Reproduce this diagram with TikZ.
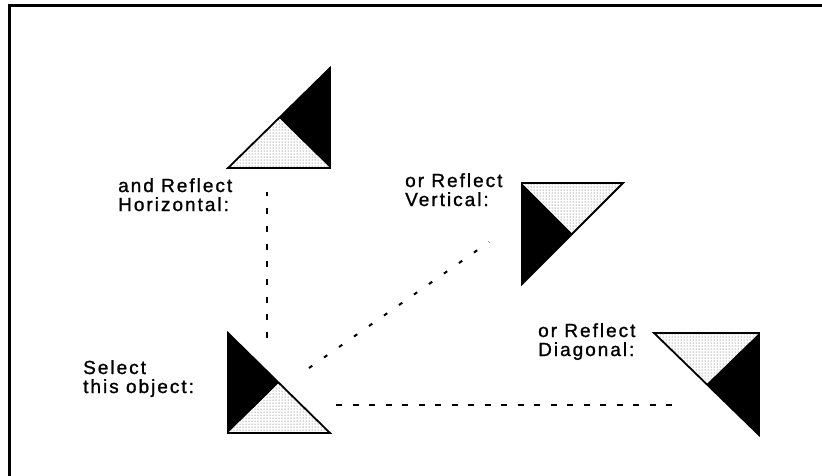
\documentclass[tikz,border=0pt]{standalone}
\usepackage{fontspec}
\setmainfont{Liberation Sans}[LetterSpace=10.5, FakeBold=1.2]
\usetikzlibrary{patterns}
\tikzset{
  x=1pt, y=-1pt,
  outline/.style={draw=black, line width=1.8pt, line join=miter},
  blackpart/.style={fill=black},
  stipple/.style={fill=white, postaction={pattern=dots, pattern color=black!70}},
  label/.style={anchor=base west, inner sep=0pt, align=left, font=\fontsize{19}{19}\selectfont},
  dashv/.style={line width=2pt, dash pattern=on 6pt off 11.7pt},
  dashh/.style={line width=2pt, dash pattern=on 6pt off 10.5pt},
  dashd/.style={line width=2pt, dash pattern=on 4pt off 14.3pt},
  frame/.style={line width=2.2pt}
}
\begin{document}
\begin{tikzpicture}
\useasboundingbox (0,0) rectangle (822,475);
% frame
\coordinate (f1) at (9.5,480);
\coordinate (f2) at (9.5,5.5);
\coordinate (f3) at (830,5.5);
\draw[frame] (f1) -- (f2) -- (f3);

% Select triangle
\coordinate (s1) at (228,333);
\coordinate (s2) at (228,433);
\coordinate (s3) at (330,433);
\coordinate (sm) at (279,383);
\fill[blackpart] (s1) -- (s2) -- (sm) -- cycle;
\path[stipple] (s2) -- (s3) -- (sm) -- cycle;
\draw[outline] (s1) -- (s2) -- (s3) -- cycle;

% Horizontal reflect triangle
\coordinate (h1) at (330,68);
\coordinate (h2) at (228,168);
\coordinate (h3) at (330,168);
\coordinate (hm) at (279,118);
\fill[blackpart] (h1) -- (h3) -- (hm) -- cycle;
\path[stipple] (h2) -- (h3) -- (hm) -- cycle;
\draw[outline] (h1) -- (h2) -- (h3) -- cycle;

% Vertical reflect triangle
\coordinate (v1) at (522,183);
\coordinate (v2) at (623,183);
\coordinate (v3) at (522,284);
\coordinate (vm) at (572.5,233.5);
\fill[blackpart] (v1) -- (v3) -- (vm) -- cycle;
\path[stipple] (v1) -- (v2) -- (vm) -- cycle;
\draw[outline] (v1) -- (v2) -- (v3) -- cycle;

% Diagonal reflect triangle
\coordinate (d1) at (654,333);
\coordinate (d2) at (759,333);
\coordinate (d3) at (759,435);
\coordinate (dm) at (706.5,384);
\fill[blackpart] (d2) -- (d3) -- (dm) -- cycle;
\path[stipple] (d1) -- (d2) -- (dm) -- cycle;
\draw[outline] (d1) -- (d2) -- (d3) -- cycle;

% connectors
\coordinate (cv1) at (267,338);
\coordinate (cv2) at (267,192);
\draw[dashv] (cv1) -- (cv2);
\coordinate (cd1) at (309,368);
\coordinate (cd2) at (489,242);
\draw[dashd] (cd1) -- (cd2);
\coordinate (ch1) at (336,405);
\coordinate (ch2) at (682,405);
\draw[dashh] (ch1) -- (ch2);

% labels
\node[label] (lh) at (118,211) {and Reflect\\Horizontal:};
\node[label] (lv) at (405,206) {or Reflect\\Vertical:};
\node[label] (ld) at (538,356) {or Reflect\\Diagonal:};
\node[label] (ls) at (83,393) {Select\\this object:};
\end{tikzpicture}
\end{document}
